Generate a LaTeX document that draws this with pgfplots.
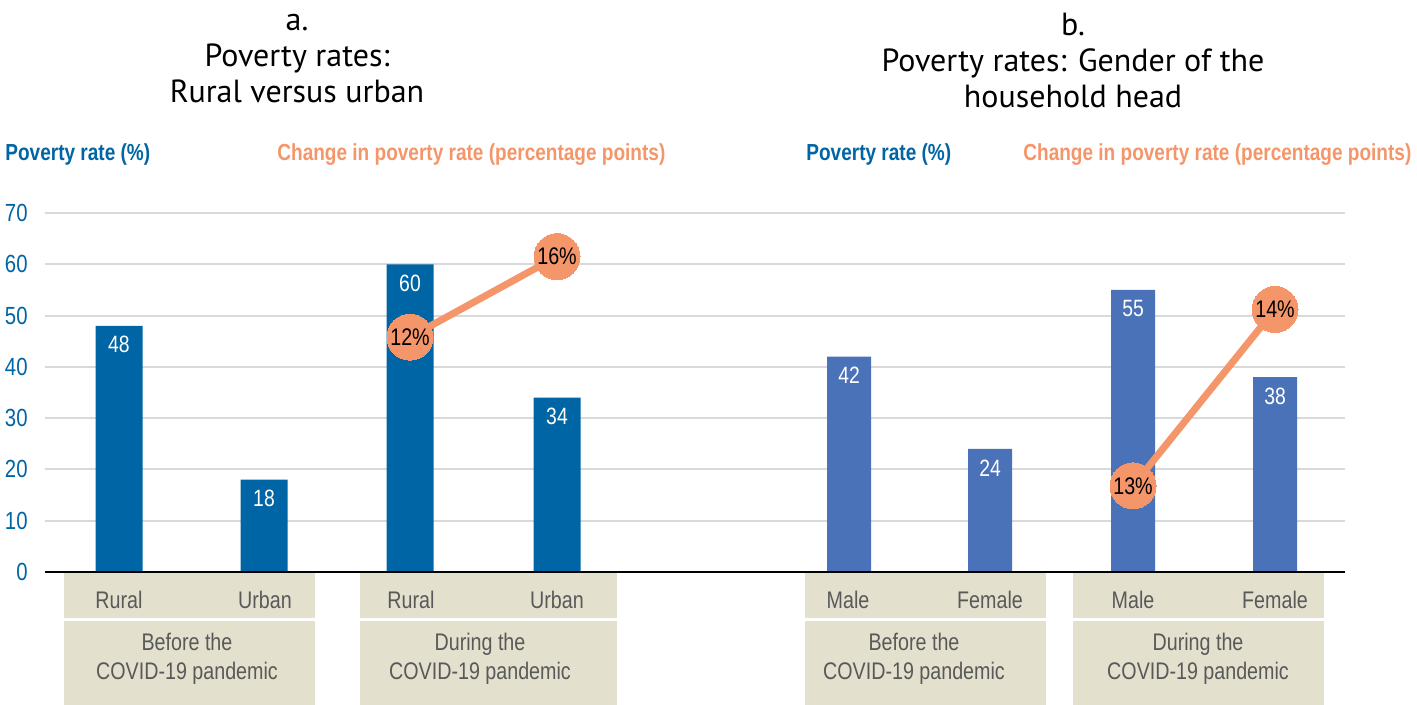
\documentclass[border=0pt]{standalone}
\usepackage{pgfplots}
\pgfplotsset{compat=1.18}
\usepackage{pgfplotstable}
\usepackage{fontspec}
\setmainfont{Liberation Sans}
\newfontfamily\narrow[FakeStretch=0.82]{Liberation Sans}
\newfontfamily\titlefont{PT Sans}
\definecolor{blueA}{HTML}{0065A4}
\definecolor{blueB}{HTML}{4A72B8}
\definecolor{orng}{HTML}{F4956A}
\definecolor{beige}{HTML}{E3E0CE}
\definecolor{txtgrey}{HTML}{595959}
\definecolor{gridc}{HTML}{D9D9D9}
\newcommand{\pbox}[4]{\fill[beige] ({#1*0.5pt},{-#2*0.5pt}) rectangle ({#3*0.5pt},{-#4*0.5pt});}
\newcommand{\ptxt}[3]{\node[font=\narrow\fontsize{12}{14.5}\selectfont, text=txtgrey, align=center, inner sep=0pt] at ({#1*0.5pt},{-#2*0.5pt}) {#3};}

% panel a: poverty rate (%)
\pgfplotstableread{
x    y
119  48
264  18
410  60
557  34
}\ruralurban
% panel b
\pgfplotstableread{
x    y
849  42
990  24
1133 55
1275 38
}\gender
% change in poverty rate (pp); pos = position on the secondary scale drawn in primary units
\pgfplotstableread{
x    chg  pos
410  12   45.8
557  16   61.5
}\chgA
\pgfplotstableread{
x    chg  pos
1133 13   16.8
1275 14   51.2
}\chgB

\begin{document}
\begin{tikzpicture}
\useasboundingbox (0,0) rectangle (708.5pt,-352.5pt);
% category boxes
\pbox{64}{573}{315}{618}
\pbox{64}{621}{315}{705}
\pbox{360}{573}{617}{618}
\pbox{360}{621}{617}{705}
\pbox{805}{573}{1046}{618}
\pbox{805}{621}{1046}{705}
\pbox{1073}{573}{1324}{618}
\pbox{1073}{621}{1324}{705}
% category labels
\ptxt{119}{600}{Rural}
\ptxt{265}{600}{Urban}
\ptxt{411}{600}{Rural}
\ptxt{557}{600}{Urban}
\ptxt{848}{600}{Male}
\ptxt{990}{600}{Female}
\ptxt{1133}{600}{Male}
\ptxt{1275}{600}{Female}
\ptxt{187}{659}{Before the\\COVID-19 pandemic}
\ptxt{480}{659}{During the\\COVID-19 pandemic}
\ptxt{914}{659}{Before the\\COVID-19 pandemic}
\ptxt{1198}{659}{During the\\COVID-19 pandemic}
% titles
\node[font=\titlefont\fontsize{16}{18}\selectfont, align=center, inner sep=0pt] at ({297*0.5pt},{-59*0.5pt}) {a.\\Poverty rates:\\Rural versus urban};
\node[font=\titlefont\fontsize{16}{18}\selectfont, align=center, inner sep=0pt] at ({1073*0.5pt},{-60*0.5pt}) {b.\\Poverty rates: Gender of the\\household head};
% headers
\node[font=\narrow\bfseries\fontsize{11.6}{14}\selectfont, text=blueA, anchor=west, inner sep=0pt] at ({5*0.5pt},{-155*0.5pt}) {Poverty rate (\%)};
\node[font=\narrow\bfseries\fontsize{11.6}{14}\selectfont, text=orng, anchor=west, inner sep=0pt] at ({277*0.5pt},{-155*0.5pt}) {Change in poverty rate (percentage points)};
\node[font=\narrow\bfseries\fontsize{11.6}{14}\selectfont, text=blueA, anchor=west, inner sep=0pt] at ({806*0.5pt},{-155*0.5pt}) {Poverty rate (\%)};
\node[font=\narrow\bfseries\fontsize{11.6}{14}\selectfont, text=orng, anchor=west, inner sep=0pt] at ({1023*0.5pt},{-155*0.5pt}) {Change in poverty rate (percentage points)};

\begin{axis}[
  at={(22.5pt,-286pt)}, anchor=south west,
  scale only axis, width=650pt, height=179.5pt,
  xmin=45, xmax=1345, ymin=0, ymax=70,
  ytick={0,10,...,70}, xtick=\empty,
  axis line style={draw=none},
  major tick length=0pt,
  ymajorgrids, grid style={gridc, line width=1pt},
  /pgf/number format/assume math mode=true,
  yticklabel style={font=\narrow\fontsize{12.4}{14}\selectfont, text=blueA, inner sep=0pt, anchor=east, xshift=-8.5pt},
  clip=false,
]
\addplot[ybar, bar shift=0pt, bar width=23.5pt, fill=blueA, draw=none,
  nodes near coords,
  every node near coord/.append style={font=\narrow\fontsize{11.8}{13}\selectfont, text=white, anchor=center, yshift=-9.5pt}]
  table[x=x, y=y] {\ruralurban};
\addplot[ybar, bar shift=0pt, bar width=22pt, fill=blueB, draw=none,
  nodes near coords,
  every node near coord/.append style={font=\narrow\fontsize{11.8}{13}\selectfont, text=white, anchor=center, yshift=-9.5pt}]
  table[x=x, y=y] {\gender};
\draw[black, line width=1.2pt] (axis cs:45,0) -- (axis cs:1345,0);
\addplot[orng, line width=3.5pt, mark=*, mark size=11.5pt, mark options={fill=orng, draw=orng, line width=0pt},
  point meta=explicit,
  nodes near coords={\pgfmathprintnumber{\pgfplotspointmeta}\%},
  every node near coord/.append style={font=\narrow\fontsize{12}{13}\selectfont, text=black, anchor=center}]
  table[x=x, y=pos, meta=chg] {\chgA};
\addplot[orng, line width=3.5pt, mark=*, mark size=11.5pt, mark options={fill=orng, draw=orng, line width=0pt},
  point meta=explicit,
  nodes near coords={\pgfmathprintnumber{\pgfplotspointmeta}\%},
  every node near coord/.append style={font=\narrow\fontsize{12}{13}\selectfont, text=black, anchor=center}]
  table[x=x, y=pos, meta=chg] {\chgB};
\end{axis}
\end{tikzpicture}
\end{document}
